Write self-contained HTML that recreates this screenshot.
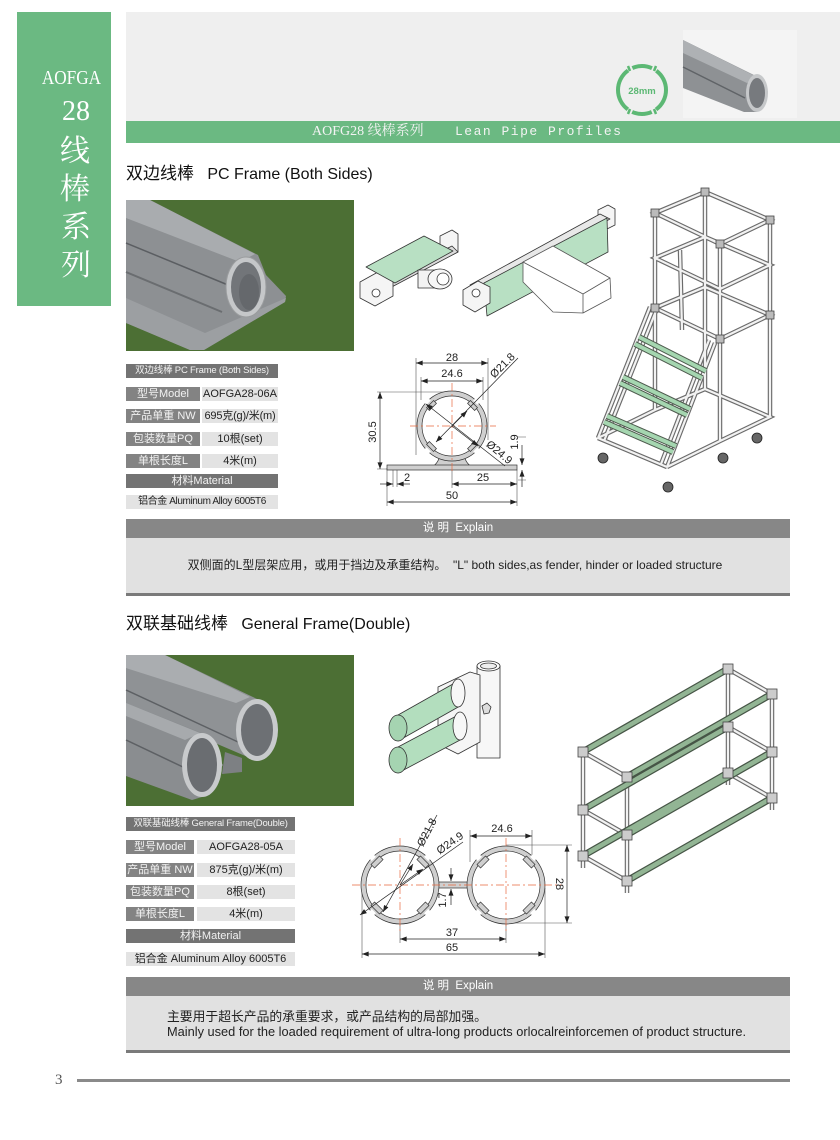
<!DOCTYPE html>
<html><head><meta charset="utf-8">
<style>
*{margin:0;padding:0;box-sizing:border-box}
body{width:840px;height:1140px;background:#fff;position:relative;overflow:hidden;font-family:"Liberation Sans","Noto Sans CJK SC",sans-serif}
.a{position:absolute}
.sc{position:absolute;left:17px;width:94px;text-align:center;color:#fff;font-family:"Liberation Serif","Noto Serif CJK SC",serif;white-space:nowrap}
.lab,.val,.bar{position:absolute;height:14px;line-height:14px;font-size:11px;text-align:center;white-space:nowrap;overflow:hidden}
.lab{background:#838383;color:#f2f2f2}
.bar{background:#737373;color:#f2f2f2}
.val{background:#e3e3e3;color:#222}
.eh{position:absolute;left:126px;width:664px;height:19px;line-height:19px;background:#878787;color:#fff;font-size:11.5px;text-align:center}
.eb{position:absolute;left:126px;width:664px;background:#e1e1e1;color:#222;font-size:12px}
.el{position:absolute;left:126px;width:664px;height:3px;background:#7a7a7a}
.tt{position:absolute;left:126px;font-size:16px;color:#111;white-space:nowrap;line-height:20px}
.tt b{font-weight:normal;font-size:17px}
</style></head><body>

<!-- sidebar -->
<div class="a" style="left:17px;top:12px;width:94px;height:294px;background:#6bb982"></div>
<div class="sc" style="top:66px;padding-left:14px;font-size:20px;line-height:24px"><span style="display:inline-block;transform:scaleX(0.86)">AOFGA</span></div>
<div class="sc" style="top:96px;padding-left:24px;font-size:28px;line-height:32px">28</div>
<div class="sc" style="top:135px;padding-left:22px;font-size:30px;line-height:34px">线</div>
<div class="sc" style="top:173px;padding-left:22px;font-size:30px;line-height:34px">棒</div>
<div class="sc" style="top:211px;padding-left:24px;font-size:30px;line-height:34px">系</div>
<div class="sc" style="top:249px;padding-left:24px;font-size:30px;line-height:34px">列</div>

<!-- header -->
<div class="a" style="left:126px;top:12px;width:714px;height:109px;background:#efefef"></div>
<div class="a" style="left:683px;top:30px;width:114px;height:88px;background:#f4f4f4"></div>
<div class="a" style="left:126px;top:121px;width:714px;height:22px;background:#6bb982"></div>
<div class="a" style="left:312px;top:123px;height:18px;line-height:18px;color:#f3f3f3;font-size:14px;white-space:nowrap;font-family:'Liberation Serif','Noto Serif CJK SC',serif">AOFG28 线棒系列<span style="position:absolute;left:143px;top:0;font-size:13px;font-family:'Liberation Mono',monospace;letter-spacing:1.5px">Lean Pipe Profiles</span></div>

<!-- section 1 -->
<div class="tt" style="top:164px"><b>双边线棒</b>&nbsp;&nbsp;&nbsp;PC Frame (Both Sides)</div>

<div class="bar" style="left:126px;top:364px;width:152px;font-size:9.5px;letter-spacing:-0.2px">双边线棒 PC Frame (Both Sides)</div>
<div class="lab" style="left:126px;top:387px;width:74px">型号Model</div>
<div class="val" style="left:202px;top:387px;width:76px">AOFGA28-06A</div>
<div class="lab" style="left:126px;top:409px;width:74px">产品单重 NW</div>
<div class="val" style="left:202px;top:409px;width:76px;letter-spacing:-0.2px">695克(g)/米(m)</div>
<div class="lab" style="left:126px;top:432px;width:74px">包装数量PQ</div>
<div class="val" style="left:202px;top:432px;width:76px">10根(set)</div>
<div class="lab" style="left:126px;top:454px;width:74px">单根长度L</div>
<div class="val" style="left:202px;top:454px;width:76px">4米(m)</div>
<div class="bar" style="left:126px;top:474px;width:152px">材料Material</div>
<div class="val" style="left:126px;top:495px;width:152px;font-size:10px;letter-spacing:-0.4px">铝合金 Aluminum Alloy 6005T6</div>

<div class="eh" style="top:519px">说 明&nbsp;&nbsp;Explain</div>
<div class="eb" style="top:538px;height:55px;line-height:55px;text-align:center;padding-right:6px">双侧面的L型层架应用，或用于挡边及承重结构。&nbsp;&nbsp;"L" both sides,as fender, hinder or loaded structure</div>
<div class="el" style="top:593px"></div>

<!-- section 2 -->
<div class="tt" style="top:614px"><b>双联基础线棒</b>&nbsp;&nbsp;&nbsp;General Frame(Double)</div>

<div class="bar" style="left:126px;top:817px;width:169px;font-size:9.5px;letter-spacing:-0.2px">双联基础线棒 General Frame(Double)</div>
<div class="lab" style="left:126px;top:840px;width:68px">型号Model</div>
<div class="val" style="left:197px;top:840px;width:98px">AOFGA28-05A</div>
<div class="lab" style="left:126px;top:863px;width:68px">产品单重 NW</div>
<div class="val" style="left:197px;top:863px;width:98px">875克(g)/米(m)</div>
<div class="lab" style="left:126px;top:885px;width:68px">包装数量PQ</div>
<div class="val" style="left:197px;top:885px;width:98px">8根(set)</div>
<div class="lab" style="left:126px;top:907px;width:68px">单根长度L</div>
<div class="val" style="left:197px;top:907px;width:98px">4米(m)</div>
<div class="bar" style="left:126px;top:929px;width:169px">材料Material</div>
<div class="val" style="left:126px;top:952px;width:169px">铝合金 Aluminum Alloy 6005T6</div>

<div class="eh" style="top:977px">说 明&nbsp;&nbsp;Explain</div>
<div class="eb" style="top:996px;height:54px;padding-left:41px;padding-top:13px;line-height:15px;white-space:nowrap;font-size:12.8px">主要用于超长产品的承重要求，或产品结构的局部加强。<br>Mainly used for the loaded requirement of ultra-long products orlocalreinforcemen of product structure.</div>
<div class="el" style="top:1050px"></div>

<!-- footer -->
<div class="a" style="left:55px;top:1070px;font-size:15px;line-height:20px;color:#555;font-family:'Liberation Serif',serif">3</div>
<div class="a" style="left:77px;top:1079px;width:713px;height:3px;background:#8a8a8a"></div>

<svg class="a" style="left:0;top:0" width="840" height="1140" viewBox="0 0 840 1140" xmlns="http://www.w3.org/2000/svg">
<defs>
<marker id="ar" viewBox="0 0 8 6" refX="8" refY="3" markerWidth="7" markerHeight="5" orient="auto-start-reverse" markerUnits="userSpaceOnUse"><path d="M0 0L8 3L0 6z" fill="#222"/></marker>
<path id="cart" fill="none" d="M655 213L705 192L770 220L720 244Z M655 258L705 237L770 265L720 289Z M655 308L705 287L770 315L720 339Z M705 389L770 417L720 441 M655 213V410 M705 192V389 M770 220V417 M720 244V441 M650 307L598 438 M656 311L604 441 M715 343L667 467 M709 340L661 464 M598 438L655 410 M667 467L720 441 M598 438L667 467 M680 250L682 330 M655 410L705 389"/>
<path id="rack" fill="none" d="M583 752L627 777 M728 669L772 694 M583 810L627 835 M728 727L772 752 M583 856L627 881 M728 773L772 798 M583 752V868 M627 777V893 M728 669V785 M772 694V810"/>
<path id="rackg" fill="none" d="M586 750L726 670 M630 775L770 695 M586 808L726 728 M630 833L770 753 M586 854L726 774 M630 879L770 799"/>
<path id="steps" fill="none" d="M635 344L702 378 M639 337L706 371 M620 383L687 415 M623 377L690 409 M604 422L673 452 M607 416L676 446"/>
</defs>

<!-- 28mm icon -->
<circle cx="642" cy="90" r="24" fill="none" stroke="#5cb874" stroke-width="4" stroke-dasharray="22.63 5 20.14 5 45.23 5 20.2 5 22.6 0"/>
<g stroke="#5cb874" stroke-width="2.5">
<line x1="628" y1="66" x2="630" y2="71"/><line x1="656" y1="66" x2="654" y2="71"/>
<line x1="628" y1="114" x2="630" y2="109"/><line x1="656" y1="114" x2="654" y2="109"/>
</g>
<text x="642" y="94" font-size="9.5" font-weight="bold" fill="#5cb874" text-anchor="middle" font-family="Liberation Sans, sans-serif">28mm</text>

<!-- header pipe -->
<polygon points="683,40 760,78 768,92 757,112 744,112 683,88" fill="#8e9194"/>
<polygon points="683,40 757,77 747,83 683,53" fill="#aeb1b4"/>
<line x1="683" y1="67" x2="745" y2="98" stroke="#606367" stroke-width="1.5"/>
<ellipse cx="757" cy="93" rx="11" ry="19" fill="#c6c8ca"/>
<ellipse cx="757" cy="93" rx="8" ry="15" fill="#777a7e"/>

<!-- photo 1 -->
<rect x="126" y="200" width="228" height="151" fill="#4c6f34"/>
<polygon points="126,200 150,200 258,255 266,275 286,296 285,302 204,350 190,350 126,323" fill="#8d9093"/>
<polygon points="126,200 150,200 255,254 240,262 126,218" fill="#a9acaf"/>
<polygon points="126,298 205,333 286,298 285,302 204,350 190,350 126,323" fill="#9c9fa2"/>
<line x1="126" y1="243" x2="228" y2="285" stroke="#5b5e62" stroke-width="1.5"/>
<line x1="126" y1="272" x2="222" y2="312" stroke="#6a6d70" stroke-width="2"/>
<ellipse cx="246" cy="287" rx="20" ry="30" fill="#c5c7c9" stroke="#9a9c9e"/>
<ellipse cx="246" cy="287" rx="15" ry="25" fill="#727579"/>
<ellipse cx="249" cy="292" rx="10" ry="18" fill="#65686c"/>

<!-- photo 2 -->
<rect x="126" y="655" width="228" height="151" fill="#4c6f34"/>
<polygon points="126,655 165,655 257,699 278,730 257,761 126,705" fill="#8f9295"/>
<polygon points="126,655 165,655 250,697 236,703 126,668" fill="#aaadb0"/>
<line x1="126" y1="690" x2="238" y2="742" stroke="#5d6064" stroke-width="1.5"/>
<polygon points="225,752 242,758 242,772 222,774" fill="#7d8083"/>
<ellipse cx="257" cy="730" rx="21" ry="31" fill="#c8cacc"/>
<ellipse cx="257" cy="730" rx="16" ry="26" fill="#6d7074"/>
<polygon points="126,703 202,733 223,765 202,797 192,800 126,776" fill="#8a8d90"/>
<polygon points="126,703 200,733 185,740 126,716" fill="#a7aaad"/>
<line x1="126" y1="740" x2="185" y2="768" stroke="#5d6064" stroke-width="1.5"/>
<ellipse cx="202" cy="765" rx="20" ry="32" fill="#c8cacc"/>
<ellipse cx="202" cy="765" rx="15" ry="27" fill="#6a6d71"/>

<!-- connector drawing 1 -->
<g stroke="#333" stroke-width="0.8" stroke-linejoin="round">
<polygon points="440,236 452,230 458,234 458,252 446,258 440,254" fill="#f5f5f5"/>
<polygon points="380,282 452,246 458,252 386,290" fill="#dcdcdc"/>
<polygon points="360,282 378,272 393,280 393,296 375,306 360,298" fill="#f5f5f5"/>
<circle cx="376" cy="293" r="4" fill="#fff"/>
<polygon points="366,267 424,236 453,251 395,283" fill="#b8e0c3"/>
<rect x="418" y="270" width="20" height="18" fill="#f3f3f3"/>
<ellipse cx="440" cy="279" rx="12" ry="10" fill="#f7f7f7"/>
<ellipse cx="443" cy="279" rx="6" ry="6" fill="#fff"/>
</g>
<!-- connector drawing 2 -->
<g stroke="#333" stroke-width="0.8" stroke-linejoin="round">
<polygon points="598,210 608,205 615,209 615,225 605,230 598,226" fill="#f5f5f5"/>
<polygon points="470,285 600,214 610,219 482,290" fill="#e8e8e8"/>
<polygon points="484,283 607,218 608,252 487,316" fill="#b8e0c3"/>
<polygon points="463,290 478,281 490,287 490,303 475,312 463,305" fill="#f5f5f5"/>
<circle cx="476" cy="293" r="4" fill="#fff"/>
<polygon points="523,262 553,246 610,278 611,298 583,313 553,312 523,282" fill="#fff" stroke="#555"/>
<polyline points="523,262 583,294 583,313" fill="none" stroke="#555"/>
<line x1="583" y1="294" x2="610" y2="278" stroke="#555"/>
</g>

<!-- cart -->
<use href="#cart" stroke="#6b6b6b" stroke-width="4.5"/>
<use href="#cart" stroke="#f2f2f2" stroke-width="2.2"/>
<use href="#steps" stroke="#4d5a4d" stroke-width="6"/>
<use href="#steps" stroke="#a5d6b0" stroke-width="4"/>
<g fill="#bbb" stroke="#444" stroke-width="0.8">
<rect x="651" y="209" width="8" height="8"/><rect x="701" y="188" width="8" height="8"/><rect x="766" y="216" width="8" height="8"/><rect x="716" y="240" width="8" height="8"/>
<rect x="651" y="304" width="8" height="8"/><rect x="766" y="311" width="8" height="8"/><rect x="716" y="335" width="8" height="8"/>
</g>
<g fill="#666" stroke="#222" stroke-width="0.8">
<circle cx="603" cy="458" r="5"/><circle cx="668" cy="487" r="5"/><circle cx="757" cy="438" r="5"/><circle cx="723" cy="458" r="5"/>
</g>

<!-- double connector -->
<g stroke="#333" stroke-width="0.8" stroke-linejoin="round">
<rect x="477" y="666" width="23" height="92" fill="#f7f7f7"/>
<ellipse cx="488.5" cy="666" rx="11.5" ry="5" fill="#fff"/>
<ellipse cx="488.5" cy="666" rx="8" ry="3" fill="#eee"/>
<polygon points="438,687 470,672 480,675 480,742 458,754 438,744" fill="#f5f5f5"/>
<polygon points="398,715 460,680 460,706 398,741" fill="#b3debe"/>
<ellipse cx="458" cy="693" rx="7" ry="14" fill="#f7f7f7"/>
<ellipse cx="398" cy="728" rx="9" ry="13" fill="#a5d4b1"/>
<polygon points="398,747 462,713 462,739 398,773" fill="#b3debe"/>
<ellipse cx="460" cy="726" rx="7" ry="14" fill="#f7f7f7"/>
<ellipse cx="398" cy="760" rx="9" ry="13" fill="#a5d4b1"/>
<polygon points="482,706 487,703 491,707 489,713 484,714" fill="#ddd"/>
</g>

<!-- rack -->
<use href="#rack" stroke="#6b6b6b" stroke-width="4.5"/>
<use href="#rack" stroke="#f2f2f2" stroke-width="2.2"/>
<use href="#rackg" stroke="#465546" stroke-width="7"/>
<use href="#rackg" stroke="#92b594" stroke-width="4.5"/>
<g fill="#ccc" stroke="#444" stroke-width="0.8">
<rect x="578" y="747" width="10" height="10"/><rect x="622" y="772" width="10" height="10"/><rect x="723" y="664" width="10" height="10"/><rect x="767" y="689" width="10" height="10"/>
<rect x="578" y="805" width="10" height="10"/><rect x="622" y="830" width="10" height="10"/><rect x="723" y="722" width="10" height="10"/><rect x="767" y="747" width="10" height="10"/>
<rect x="578" y="851" width="10" height="10"/><rect x="622" y="876" width="10" height="10"/><rect x="723" y="768" width="10" height="10"/><rect x="767" y="793" width="10" height="10"/>
</g>

<!-- profile drawing 1 -->
<g stroke="#555" stroke-width="0.6" fill="none">
<path d="M416 358V455 M488 358V440 M421 377V400 M483 377V400 M377 392H450 M377 469H387 M387 468V506 M517 470V506 M452 470V488 M393 468V487 M397 470V487 M518 437H526 M518 480H526"/>
</g>
<path d="M432 467Q440 462 440 452L464 452Q464 462 472 467Z" fill="#cfcfcf" stroke="#333" stroke-width="0.7"/>
<rect x="387" y="465" width="130" height="5" fill="#cfcfcf" stroke="#333" stroke-width="0.7"/>
<g transform="translate(452,426)" stroke="#333" stroke-width="0.7">
<circle r="35" fill="#cfcfcf"/><circle r="30" fill="#fff"/>
<g fill="#cfcfcf"><rect x="-5" y="-31" width="10" height="4" transform="rotate(45)"/><rect x="-5" y="-31" width="10" height="4" transform="rotate(135)"/><rect x="-5" y="-31" width="10" height="4" transform="rotate(225)"/><rect x="-5" y="-31" width="10" height="4" transform="rotate(315)"/></g>
<g fill="#fff" stroke="none"><rect x="-3" y="-36" width="6" height="3" transform="rotate(45)"/><rect x="-3" y="-36" width="6" height="3" transform="rotate(135)"/><rect x="-3" y="-36" width="6" height="3" transform="rotate(225)"/><rect x="-3" y="-36" width="6" height="3" transform="rotate(315)"/></g>
</g>
<g stroke="#e8693f" stroke-width="0.7" stroke-dasharray="8 3 2 3" fill="none"><path d="M410 426H496 M452 383V472"/></g>
<g stroke="#222" stroke-width="0.7" fill="none" marker-start="url(#ar)" marker-end="url(#ar)">
<path d="M416 363H488"/><path d="M421 381H483"/><path d="M380 392V469"/><path d="M452 484H517"/><path d="M387 502H517"/>
</g>
<g stroke="#222" stroke-width="0.7" fill="none" marker-end="url(#ar)">
<path d="M380 484H393"/><path d="M410 484H397"/><path d="M522 445V465"/><path d="M522 487V470"/>
<path d="M518 358L436 442"/><path d="M452 426L467 411"/><path d="M452 426L478 446"/>
</g>
<path d="M426 404L505 466" stroke="#222" stroke-width="0.7" marker-start="url(#ar)"/>
<g font-family="Liberation Sans, sans-serif" font-size="11" fill="#222" text-anchor="middle">
<text x="452" y="361">28</text>
<text x="452" y="377">24.6</text>
<text x="376" y="432" transform="rotate(-90 376 432)">30.5</text>
<text x="505" y="368" transform="rotate(-45 505 368)">Ø21.8</text>
<text x="497" y="455" transform="rotate(40 497 455)">Ø24.9</text>
<text x="518" y="442" transform="rotate(-90 518 442)">1.9</text>
<text x="407" y="481">2</text>
<text x="483" y="481">25</text>
<text x="452" y="499">50</text>
</g>

<!-- profile drawing 2 -->
<g stroke="#555" stroke-width="0.6" fill="none">
<path d="M470 830V862 M532 830V862 M506 845H572 M506 923H572 M400 905V943 M506 905V943 M362 888V958 M545 888V958"/>
</g>
<rect x="436" y="882" width="34" height="6" fill="#cfcfcf" stroke="#333" stroke-width="0.7"/>
<g stroke="#333" stroke-width="0.7">
<g transform="translate(400,885)">
<circle r="39" fill="#cfcfcf"/><circle r="34" fill="#fff"/>
<g fill="#cfcfcf"><rect x="-6" y="-35" width="12" height="5" transform="rotate(45)"/><rect x="-6" y="-35" width="12" height="5" transform="rotate(135)"/><rect x="-6" y="-35" width="12" height="5" transform="rotate(225)"/><rect x="-6" y="-35" width="12" height="5" transform="rotate(315)"/></g>
<g fill="#fff" stroke="none"><rect x="-3" y="-40" width="6" height="3" transform="rotate(45)"/><rect x="-3" y="-40" width="6" height="3" transform="rotate(135)"/><rect x="-3" y="-40" width="6" height="3" transform="rotate(225)"/><rect x="-3" y="-40" width="6" height="3" transform="rotate(315)"/></g>
</g>
<g transform="translate(506,885)">
<circle r="39" fill="#cfcfcf"/><circle r="34" fill="#fff"/>
<g fill="#cfcfcf"><rect x="-6" y="-35" width="12" height="5" transform="rotate(45)"/><rect x="-6" y="-35" width="12" height="5" transform="rotate(135)"/><rect x="-6" y="-35" width="12" height="5" transform="rotate(225)"/><rect x="-6" y="-35" width="12" height="5" transform="rotate(315)"/></g>
<g fill="#fff" stroke="none"><rect x="-3" y="-40" width="6" height="3" transform="rotate(45)"/><rect x="-3" y="-40" width="6" height="3" transform="rotate(135)"/><rect x="-3" y="-40" width="6" height="3" transform="rotate(225)"/><rect x="-3" y="-40" width="6" height="3" transform="rotate(315)"/></g>
</g>
</g>
<g stroke="#e8693f" stroke-width="0.7" stroke-dasharray="8 3 2 3" fill="none"><path d="M352 885H562 M400 838V932 M506 838V932"/></g>
<g stroke="#222" stroke-width="0.7" fill="none" marker-start="url(#ar)" marker-end="url(#ar)">
<path d="M470 836H532"/><path d="M567 845V923"/><path d="M400 939H506"/><path d="M362 954H545"/>
</g>
<g stroke="#222" stroke-width="0.7" fill="none" marker-end="url(#ar)">
<path d="M451 868V881"/><path d="M451 905V889"/>
<path d="M437 815L383 912"/><path d="M400 885L413 864"/>
<path d="M463 842L360 915"/><path d="M400 885L423 869"/>
</g>
<g font-family="Liberation Sans, sans-serif" font-size="11" fill="#222" text-anchor="middle">
<text x="502" y="832">24.6</text>
<text x="556" y="884" transform="rotate(90 556 884)">28</text>
<text x="446" y="900" transform="rotate(-90 446 900)">1.7</text>
<text x="452" y="936">37</text>
<text x="452" y="951">65</text>
<text x="430" y="834" transform="rotate(-62 430 834)">Ø21.8</text>
<text x="452" y="846" transform="rotate(-35 452 846)">Ø24.9</text>
</g>
</svg>
</body></html>
